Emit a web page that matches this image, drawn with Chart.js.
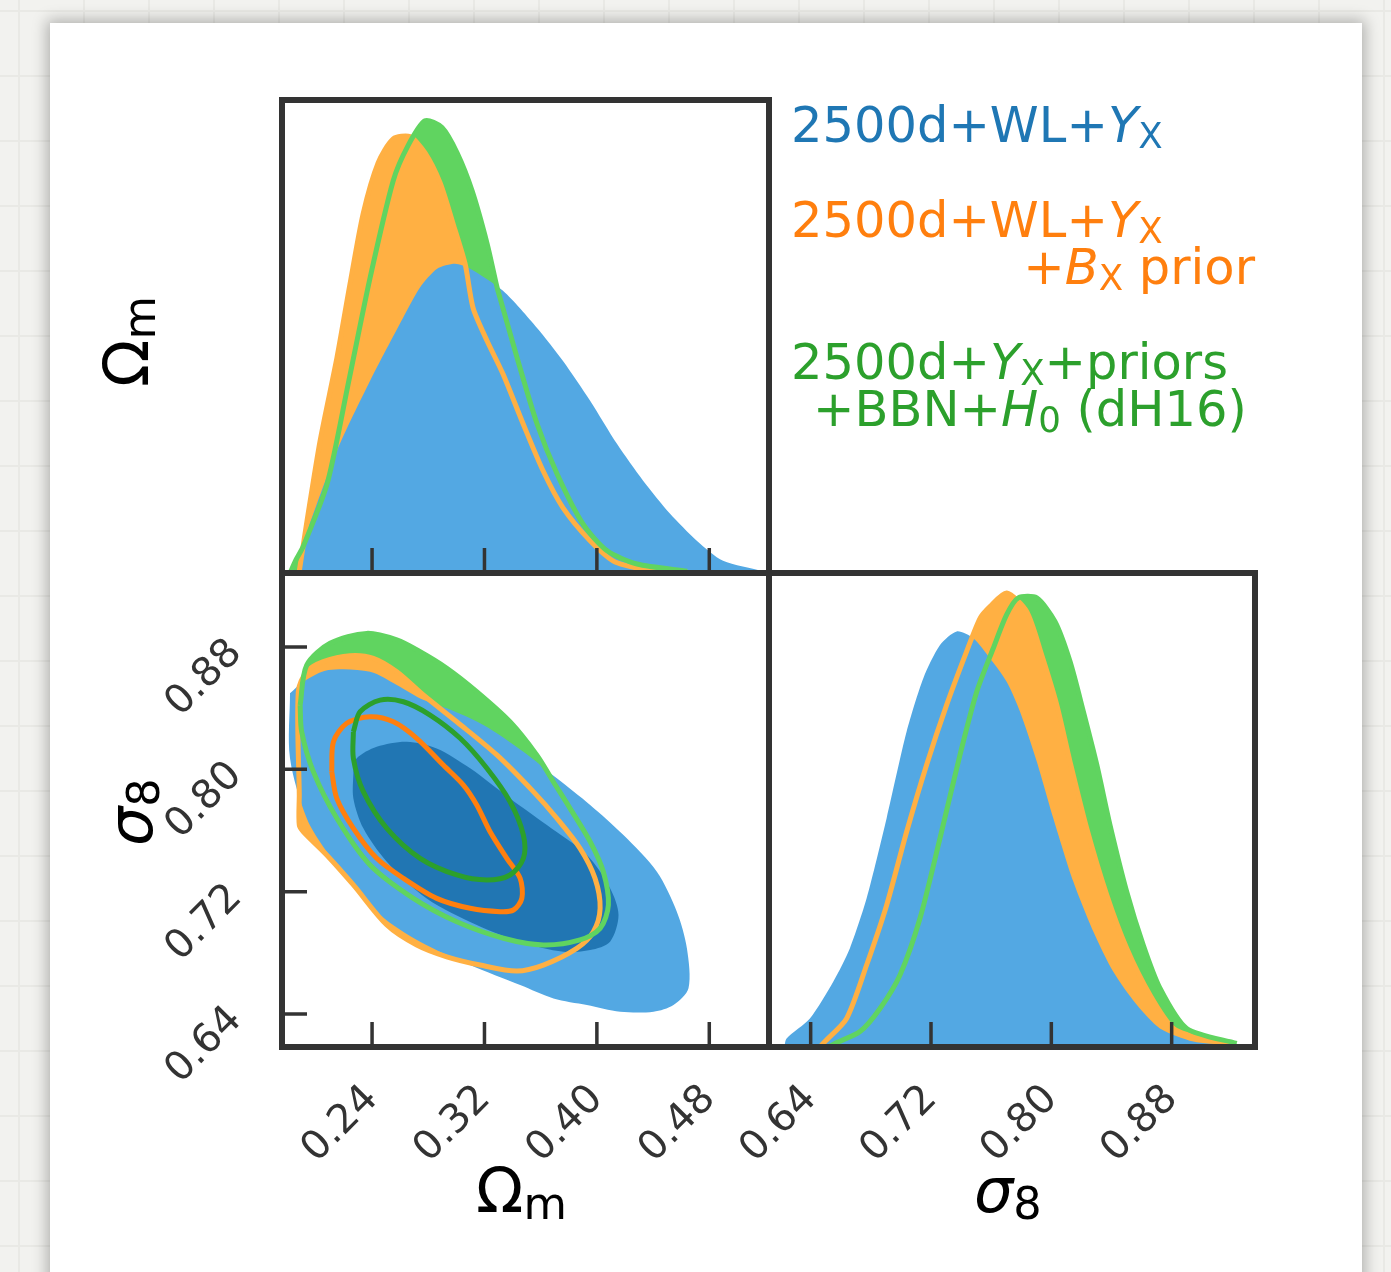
<!DOCTYPE html>
<html lang="en">
  <head>
    <meta charset="UTF-8" />
    <title>Omega_m / sigma_8 constraints</title>
    <script src="https://cdn.jsdelivr.net/npm/chart.js"></script>
    <style>
      html,
      body {
        margin: 0;
        padding: 0;
      }
      body {
        position: relative;
        width: 1391px;
        height: 1272px;
        overflow: hidden;
        font-family: "DejaVu Sans", sans-serif;
        background-color: #f2f2ef;
        background-image: linear-gradient(#e9e9e5 2px, transparent 2px),
          linear-gradient(90deg, #e9e9e5 2px, transparent 2px);
        background-size: 65px 65px;
        background-position: 18px 10px;
      }
      .card {
        position: absolute;
        left: 50px;
        top: 23px;
        width: 1312px;
        height: 1320px;
        background: #fff;
        box-shadow: 0 0 14px 3px rgba(0, 0, 0, 0.28);
      }
      canvas {
        position: absolute;
        left: 0;
        top: 0;
      }
      .txt {
        position: absolute;
        white-space: nowrap;
      }
      .leg {
        font-size: 49.5px;
        line-height: 49.5px;
      }
      .ttl {
        font-size: 62px;
        line-height: 62px;
        color: #000;
      }
      .rot {
        transform-origin: 0 0;
        transform: rotate(-90deg);
      }
      sub {
        font-size: 0.72em;
        vertical-align: -0.16em;
        line-height: 0;
      }
    </style>
  </head>
  <body>
    <div class="card"></div>
    <canvas id="cTop" width="1391" height="1272"></canvas>
    <canvas id="c2d" width="1391" height="1272"></canvas>
    <canvas id="cS8" width="1391" height="1272"></canvas>

    <div class="txt leg" style="left: 791px; top: 101px; color: #1f77b4">2500d+WL+<i>Y</i><sub>X</sub></div>
    <div class="txt leg" style="left: 791px; top: 196px; color: #ff7f0e">2500d+WL+<i>Y</i><sub>X</sub></div>
    <div class="txt leg" style="right: 136px; top: 243px; color: #ff7f0e">+<i>B</i><sub>X</sub> prior</div>
    <div class="txt leg" style="left: 791px; top: 338px; color: #2ca02c">2500d+<i>Y</i><sub>X</sub>+priors</div>
    <div class="txt leg" style="left: 813px; top: 385px; color: #2ca02c">+BBN+<i>H</i><sub>0</sub> (dH16)</div>

    <div class="txt ttl" style="left: 476px; top: 1160px">Ω<sub>m</sub></div>
    <div class="txt ttl" style="left: 974px; top: 1160px"><i>σ</i><sub>8</sub></div>
    <div class="txt ttl rot" style="left: 96px; top: 387px">Ω<sub>m</sub></div>
    <div class="txt ttl rot" style="left: 100px; top: 846px"><i>σ</i><sub>8</sub></div>

    <script>
      // tick values
      const omTicks = [0.24, 0.32, 0.4, 0.48];
      const s8Ticks = [0.64, 0.72, 0.8, 0.88];

      // 1D marginal of Omega_m  [Omega_m, normalised density]
      const omBlue = [
        [0.1888, 0], [0.19, 0.055], [0.215, 0.27], [0.2386, 0.425], [0.262, 0.564],
        [0.274, 0.631], [0.2863, 0.673], [0.299, 0.684], [0.3098, 0.673], [0.3332, 0.624],
        [0.3574, 0.542], [0.3759, 0.469], [0.3952, 0.381], [0.4144, 0.285], [0.4329, 0.204],
        [0.4521, 0.131], [0.4713, 0.071], [0.4898, 0.027], [0.5183, 0.004],
      ];
      const omOrange = [
        [0.188, 0], [0.1937, 0.115], [0.203, 0.292], [0.215, 0.476], [0.2243, 0.639],
        [0.2336, 0.794], [0.2443, 0.907], [0.255, 0.96], [0.267, 0.965], [0.2777, 0.929],
        [0.2884, 0.863], [0.2977, 0.772], [0.3062, 0.684], [0.3119, 0.586], [0.3219, 0.513],
        [0.3332, 0.44], [0.3475, 0.33], [0.3617, 0.226], [0.3759, 0.144], [0.3952, 0.071],
        [0.4115, 0.027], [0.4286, 0.011], [0.4642, 0.003],
      ];
      const omGreen = [
        [0.1816, 0], [0.186, 0.03], [0.1909, 0.058], [0.208, 0.197], [0.223, 0.418],
        [0.2386, 0.653], [0.255, 0.867], [0.2656, 0.945], [0.2777, 1.0], [0.2898, 0.985],
        [0.3005, 0.929], [0.3112, 0.845], [0.3219, 0.728], [0.329, 0.631], [0.3311, 0.608],
        [0.3432, 0.476], [0.3574, 0.33], [0.3717, 0.219], [0.3902, 0.108], [0.4073, 0.049],
        [0.4286, 0.02], [0.4642, 0.004],
      ];

      // 1D marginal of sigma_8  [sigma_8, normalised density]
      const s8Blue = [
        [0.6225, 0], [0.624, 0.019], [0.6395, 0.063], [0.655, 0.144], [0.6661, 0.218],
        [0.6772, 0.328], [0.6905, 0.505], [0.7038, 0.696], [0.7149, 0.814], [0.726, 0.887],
        [0.7371, 0.917], [0.7481, 0.902], [0.7592, 0.858], [0.7703, 0.806], [0.7792, 0.74],
        [0.7903, 0.63], [0.8013, 0.505], [0.8146, 0.365], [0.8279, 0.255], [0.8412, 0.166],
        [0.8568, 0.093], [0.8722, 0.041], [0.8944, 0.012], [0.9166, 0.004],
      ];
      const s8Orange = [
        [0.646, 0], [0.6495, 0.012], [0.6639, 0.063], [0.6772, 0.181], [0.6905, 0.313],
        [0.7038, 0.475], [0.7171, 0.623], [0.7304, 0.755], [0.7437, 0.873], [0.7526, 0.946],
        [0.7592, 0.972], [0.7703, 1.002], [0.7836, 0.961], [0.7936, 0.865], [0.8036, 0.755],
        [0.8124, 0.63], [0.8235, 0.483], [0.8368, 0.336], [0.8501, 0.218], [0.8656, 0.115],
        [0.8811, 0.041], [0.8989, 0.019], [0.921, 0.006],
      ];
      const s8Green = [
        [0.652, 0], [0.6562, 0.008], [0.6728, 0.034], [0.6861, 0.085], [0.6994, 0.159],
        [0.7127, 0.284], [0.726, 0.461], [0.7393, 0.645], [0.7504, 0.784], [0.7614, 0.88],
        [0.7703, 0.954], [0.778, 0.991], [0.7903, 0.991], [0.8024, 0.939], [0.8124, 0.851],
        [0.8213, 0.74], [0.8302, 0.623], [0.839, 0.49], [0.8501, 0.343], [0.8611, 0.225],
        [0.8722, 0.13], [0.89, 0.041], [0.9232, 0.008],
      ];

      // 2D contours  [Omega_m, sigma_8]
      const blueOuter = [
        [0.1816, 0.8497], [0.1911, 0.8573], [0.2089, 0.8649], [0.2386, 0.8638], [0.2576, 0.8551],
        [0.2742, 0.8464], [0.2932, 0.8399], [0.3192, 0.829], [0.3477, 0.8115], [0.3715, 0.7941],
        [0.3952, 0.7767], [0.4189, 0.757], [0.4427, 0.733], [0.4569, 0.7069], [0.4641, 0.6829],
        [0.4652, 0.6568], [0.4545, 0.6459], [0.4403, 0.6415], [0.4166, 0.6415], [0.3929, 0.6459],
        [0.3691, 0.6502], [0.3454, 0.6589], [0.3098, 0.672], [0.2742, 0.6872], [0.2457, 0.7047],
        [0.2243, 0.7265], [0.2077, 0.7461], [0.1935, 0.768], [0.1816, 0.8072], [0.1816, 0.8497],
      ];
      const blueInner = [
        [0.2267, 0.7985], [0.2291, 0.8072], [0.2433, 0.8148], [0.2647, 0.8181], [0.286, 0.8137],
        [0.3098, 0.8007], [0.3382, 0.781], [0.3644, 0.7636], [0.3929, 0.744], [0.4094, 0.7222],
        [0.4154, 0.7047], [0.4094, 0.6873], [0.3952, 0.6818], [0.3762, 0.6807], [0.3454, 0.6873],
        [0.3145, 0.6982], [0.2789, 0.7156], [0.2505, 0.7396], [0.2338, 0.7614], [0.2267, 0.781],
        [0.2267, 0.7985],
      ];
      const orangeOuter = [
        [0.1882, 0.7832], [0.1875, 0.8508], [0.1935, 0.8638], [0.2053, 0.8704], [0.2243, 0.8743],
        [0.2409, 0.8726], [0.2576, 0.8638], [0.2765, 0.8486], [0.3003, 0.8311], [0.3288, 0.8094],
        [0.3548, 0.7854], [0.3715, 0.768], [0.388, 0.7483], [0.3987, 0.7287], [0.4023, 0.7091],
        [0.3975, 0.6938], [0.3857, 0.6829], [0.3619, 0.672], [0.343, 0.6681], [0.3169, 0.672],
        [0.2932, 0.6774], [0.2718, 0.6851], [0.2505, 0.6982], [0.2267, 0.7244], [0.2077, 0.744],
        [0.1911, 0.7592], [0.1882, 0.7636], [0.1882, 0.7832],
      ];
      const orangeInner = [
        [0.2113, 0.7985], [0.2125, 0.8181], [0.222, 0.8301], [0.2386, 0.8344], [0.2552, 0.8311],
        [0.2718, 0.8203], [0.2907, 0.8028], [0.305, 0.7897], [0.3145, 0.7767], [0.324, 0.7592],
        [0.3359, 0.7418], [0.3454, 0.7287], [0.3466, 0.7156], [0.3406, 0.708], [0.3311, 0.7069],
        [0.3098, 0.7091], [0.286, 0.7156], [0.2623, 0.7287], [0.2433, 0.7418], [0.2267, 0.7614],
        [0.2149, 0.781], [0.2113, 0.7985],
      ];
      const greenOuter = [
        [0.1888, 0.842], [0.1935, 0.8682], [0.2101, 0.8824], [0.2362, 0.8889], [0.2576, 0.8846],
        [0.2742, 0.8769], [0.2932, 0.8661], [0.3145, 0.8508], [0.3382, 0.8311], [0.3572, 0.8094],
        [0.369, 0.7919], [0.3809, 0.7745], [0.3952, 0.7527], [0.4046, 0.733], [0.4082, 0.7113],
        [0.4023, 0.696], [0.388, 0.6884], [0.3619, 0.6851], [0.3335, 0.6895], [0.3003, 0.7003],
        [0.2694, 0.7156], [0.2386, 0.7374], [0.2149, 0.768], [0.1982, 0.7985], [0.1899, 0.8246],
        [0.1888, 0.842],
      ];
      const greenInner = [
        [0.2267, 0.8246], [0.2315, 0.8377], [0.2457, 0.8453], [0.2623, 0.8442], [0.2813, 0.8355],
        [0.3027, 0.8203], [0.3217, 0.8007], [0.3382, 0.7788], [0.3477, 0.757], [0.3477, 0.7418],
        [0.3382, 0.7309], [0.3217, 0.7276], [0.3003, 0.7309], [0.2742, 0.7418], [0.2505, 0.7614],
        [0.2338, 0.7854], [0.2267, 0.8072], [0.2267, 0.8246],
      ];

      const BLUE = "#53a8e3";
      const BLUE_DARK = "#2176b3";
      const ORANGE = "#ffb043";
      const ORANGE_DARK = "#ff7f0e";
      const GREEN = "#60d460";
      const GREEN_DARK = "#2ca02c";

      Chart.defaults.font.family = "'DejaVu Sans', sans-serif";

      const pts = (arr) => arr.map((p) => ({ x: p[0], y: p[1] }));

      // datasets listed top-most first (Chart.js draws index 0 last)
      function area(arr, color) {
        return {
          data: pts(arr), showLine: true, fill: "origin", backgroundColor: color,
          borderWidth: 0, borderColor: color, tension: 0.25,
        };
      }
      function curve(arr, color) {
        return {
          data: pts(arr), showLine: true, fill: false, borderColor: color,
          borderWidth: 5, tension: 0.25,
        };
      }
      function blob(arr, color) {
        return {
          data: pts(arr), showLine: true, fill: "shape", backgroundColor: color,
          borderWidth: 0, borderColor: color, tension: 0.3,
        };
      }
      function ring(arr, color) {
        return {
          data: pts(arr), showLine: true, fill: false, borderColor: color,
          borderWidth: 5, tension: 0.3,
        };
      }

      const framePlugin = {
        id: "frame",
        afterDatasetsDraw(chart, args, opts) {
          const { ctx, chartArea: a, scales } = chart;
          ctx.save();
          ctx.strokeStyle = "#333";
          ctx.lineWidth = 3.5;
          ctx.beginPath();
          (opts.xTicks || []).forEach((v) => {
            const px = scales.x.getPixelForValue(v);
            ctx.moveTo(px, a.bottom);
            ctx.lineTo(px, a.bottom - 25);
          });
          (opts.yTicks || []).forEach((v) => {
            const py = scales.y.getPixelForValue(v);
            ctx.moveTo(a.left, py);
            ctx.lineTo(a.left + 25, py);
          });
          ctx.stroke();
          ctx.lineWidth = 6;
          ctx.strokeRect(a.left, a.top, a.right - a.left, a.bottom - a.top);
          ctx.restore();
        },
      };

      const tickFont = { family: "'DejaVu Sans', sans-serif", size: 40 };

      function labelAxis(min, max, ticks, pad, extra) {
        return Object.assign(
          {
            type: "linear",
            min: min,
            max: max,
            grid: { display: false, drawTicks: false },
            border: { display: false },
            afterBuildTicks: (s) => {
              s.ticks = ticks.map((v) => ({ value: v }));
            },
            ticks: {
              autoSkip: false,
              minRotation: 45,
              maxRotation: 45,
              padding: pad,
              color: "#333",
              font: tickFont,
              callback: (v) => Number(v).toFixed(2),
            },
          },
          extra
        );
      }
      const hidden = (min, max) => ({ type: "linear", min: min, max: max, display: false });

      const baseOpts = {
        responsive: false,
        animation: false,
        events: [],
        elements: { point: { radius: 0, hoverRadius: 0 } },
      };

      const OM_MIN = 0.1759, OM_MAX = 0.5225;
      const S8_YMIN = 0.6184, S8_YMAX = 0.9284;
      const S8_XMIN = 0.6123, S8_XMAX = 0.9354;
      const P_MAX = 1.046;

      // top panel: Omega_m marginal
      new Chart(document.getElementById("cTop"), {
        type: "scatter",
        data: {
          datasets: [
            curve(omGreen, GREEN),
            curve(omOrange, ORANGE),
            area(omBlue, BLUE),
            area(omOrange, ORANGE),
            area(omGreen, GREEN),
          ],
        },
        options: Object.assign({}, baseOpts, {
          layout: { padding: { left: 282, right: 622, top: 100, bottom: 699 } },
          scales: { x: hidden(OM_MIN, OM_MAX), y: hidden(0, P_MAX) },
          plugins: { legend: { display: false }, tooltip: { enabled: false }, frame: { xTicks: omTicks } },
        }),
        plugins: [framePlugin],
      });

      // 2D panel: Omega_m vs sigma_8
      new Chart(document.getElementById("c2d"), {
        type: "scatter",
        data: {
          datasets: [
            ring(greenInner, GREEN_DARK),
            ring(orangeInner, ORANGE_DARK),
            ring(greenOuter, GREEN),
            ring(orangeOuter, ORANGE),
            blob(blueInner, BLUE_DARK),
            blob(blueOuter, BLUE),
            blob(orangeOuter, ORANGE),
            blob(greenOuter, GREEN),
          ],
        },
        options: Object.assign({}, baseOpts, {
          layout: { padding: { left: 152, right: 622, top: 573, bottom: 75 } },
          scales: {
            x: labelAxis(OM_MIN, OM_MAX, omTicks, 29, {
              position: "bottom",
              afterFit: (s) => { s.height = 150; },
            }),
            y: labelAxis(S8_YMIN, S8_YMAX, s8Ticks, 46, {
              position: "left",
              afterFit: (s) => { s.width = 130; },
            }),
          },
          plugins: {
            legend: { display: false },
            tooltip: { enabled: false },
            frame: { xTicks: omTicks, yTicks: s8Ticks },
          },
        }),
        plugins: [framePlugin],
      });

      // right panel: sigma_8 marginal
      new Chart(document.getElementById("cS8"), {
        type: "scatter",
        data: {
          datasets: [
            curve(s8Green, GREEN),
            curve(s8Orange, ORANGE),
            area(s8Blue, BLUE),
            area(s8Orange, ORANGE),
            area(s8Green, GREEN),
          ],
        },
        options: Object.assign({}, baseOpts, {
          layout: { padding: { left: 769, right: 136, top: 573, bottom: 75 } },
          scales: {
            x: labelAxis(S8_XMIN, S8_XMAX, s8Ticks, 29, {
              position: "bottom",
              afterFit: (s) => { s.height = 150; },
            }),
            y: hidden(0, P_MAX),
          },
          plugins: { legend: { display: false }, tooltip: { enabled: false }, frame: { xTicks: s8Ticks } },
        }),
        plugins: [framePlugin],
      });
    </script>
  </body>
</html>
